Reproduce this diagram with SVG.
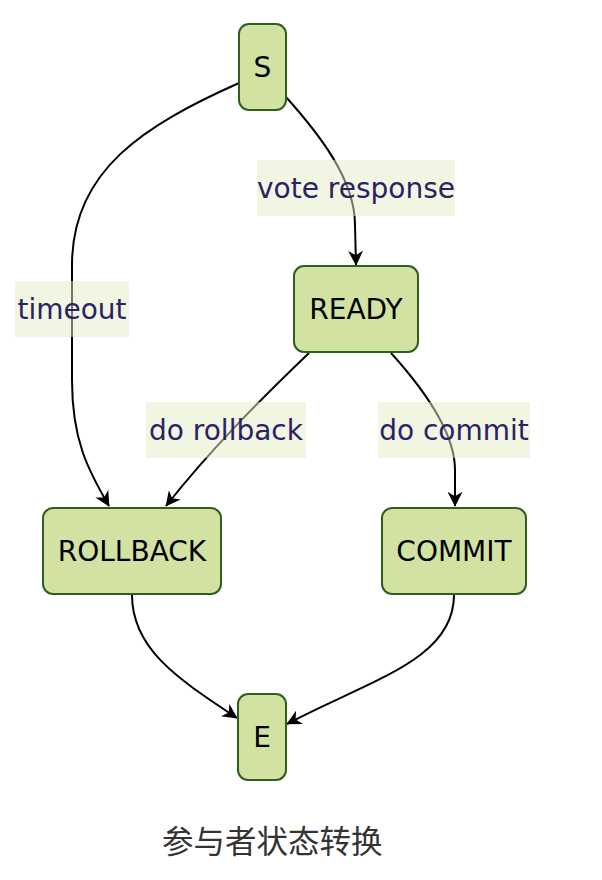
<svg xmlns="http://www.w3.org/2000/svg" width="602" height="880" viewBox="0 0 602 880">
<defs>
<style>
.node rect{fill:#d2e2a2;stroke:#2f5f1f;stroke-width:2}
.node text{font-family:"DejaVu Sans","Liberation Sans",sans-serif;font-size:28px;fill:#000;text-anchor:middle}
.edge{fill:none;stroke:#000;stroke-width:2;marker-end:url(#arr)}
.lbl rect{fill:rgb(226,237,197);fill-opacity:0.5}
.lbl text{font-family:"DejaVu Sans","Liberation Sans",sans-serif;font-size:28px;fill:#2b2165;text-anchor:middle}
.title{font-family:"Noto Sans CJK SC","Noto Sans",sans-serif;font-size:31.5px;fill:#333}
</style>
<marker id="arr" viewBox="0 0 10 10" refX="9.5" refY="5" markerWidth="15" markerHeight="15" orient="auto" markerUnits="userSpaceOnUse">
<path d="M0,0 L10,5 L0,10 L3,5 z" fill="#000"/>
</marker>
</defs>
<rect width="602" height="880" fill="#fff"/>
<g id="connectors">
<path class="edge" d="M239,83 C145,125 72,170 72,265 L72,380 C72,440 88,470 109,506"/>
<path class="edge" d="M286,97 C320,135 355,180 355,225 L356,265"/>
<path class="edge" d="M309,353 C260,400 210,450 166,506"/>
<path class="edge" d="M391,353 C420,385 455,430 455,470 L455,506"/>
<path class="edge" d="M132,595 C132,650 180,680 237,718"/>
<path class="edge" d="M454,595 C454,660 370,680 287,724"/>
</g>
<g id="labels">
<g class="lbl" id="lbl-vote"><rect x="257" y="160" width="198" height="56"/><text x="356" y="198">vote response</text></g>
<g class="lbl" id="lbl-timeout"><rect x="15" y="281" width="114" height="56"/><text x="72" y="319">timeout</text></g>
<g class="lbl" id="lbl-rollback"><rect x="146" y="402" width="160" height="56"/><text x="226" y="440">do rollback</text></g>
<g class="lbl" id="lbl-commit"><rect x="378" y="402" width="152" height="56"/><text x="454" y="440">do commit</text></g>
</g>
<g class="node" id="S"><rect x="239" y="24" width="47" height="86" rx="10"/><text x="262.5" y="77">S</text></g>
<g class="node" id="READY"><rect x="294" y="266" width="124" height="86" rx="10"/><text x="356" y="319">READY</text></g>
<g class="node" id="ROLLBACK"><rect x="43" y="508" width="178" height="86" rx="10"/><text x="132" y="561">ROLLBACK</text></g>
<g class="node" id="COMMIT"><rect x="382" y="508" width="144" height="86" rx="10"/><text x="454" y="561">COMMIT</text></g>
<g class="node" id="E"><rect x="238" y="694" width="48" height="86" rx="10"/><text x="262" y="747">E</text></g>
<text class="title" x="162" y="853">参与者状态转换</text>
</svg>
